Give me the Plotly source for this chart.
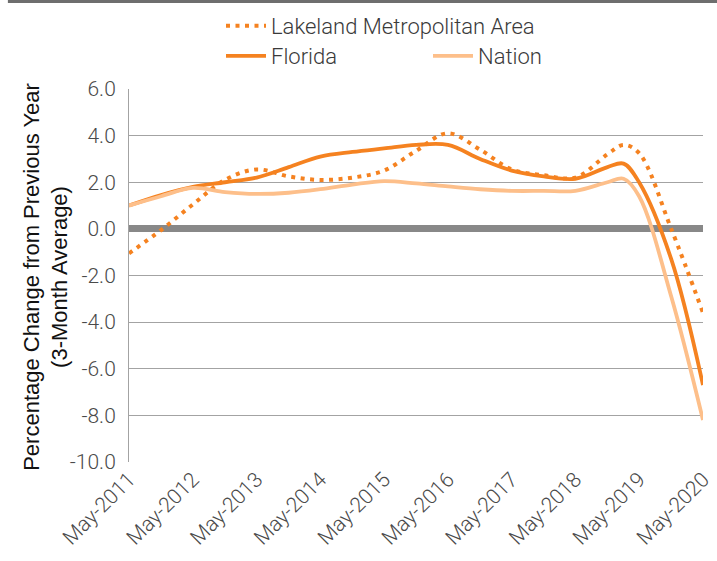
import plotly.graph_objects as go

# Semi-annual readings of year-over-year change (3-month average), percent
dates = [
    "2011-05-01", "2011-11-01", "2012-05-01", "2012-11-01", "2013-05-01",
    "2013-11-01", "2014-05-01", "2014-11-01", "2015-05-01", "2015-11-01",
    "2016-05-01", "2016-11-01", "2017-05-01", "2017-11-01", "2018-05-01",
    "2018-11-01", "2019-02-01", "2019-05-01", "2019-11-01", "2020-05-01",
]
lakeland = [-1.05, -0.05, 1.05, 2.1, 2.55, 2.25, 2.1, 2.2, 2.5, 3.35,
            4.1, 3.4, 2.55, 2.3, 2.2, 3.2, 3.6, 3.25, 0.0, -3.6]
florida = [1.0, 1.45, 1.8, 2.0, 2.2, 2.65, 3.1, 3.3, 3.45, 3.6,
           3.6, 3.0, 2.5, 2.25, 2.15, 2.65, 2.8, 2.0, -1.3, -6.7]
nation = [1.0, 1.4, 1.76, 1.58, 1.5, 1.55, 1.7, 1.9, 2.05, 1.95,
          1.82, 1.7, 1.63, 1.63, 1.63, 2.0, 2.15, 1.4, -2.9, -8.2]

tick_dates = ["%d-05-01" % y for y in range(2011, 2021)]
tick_text = ["May-%d" % y for y in range(2011, 2021)]
y_ticks = [6, 4, 2, 0, -2, -4, -6, -8, -10]
y_title = "Percentage Change from Previous Year<br>(3-Month Average)"

ORANGE = "#f58220"
LIGHT = "#fdbf8a"
LIGHT_FONT = "Roboto"
TITLE_FONT = "Liberation Sans"

fig = go.Figure()
fig.add_trace(go.Scatter(
    x=dates, y=lakeland, name="Lakeland Metropolitan Area", mode="lines",
    line=dict(color=ORANGE, width=4, dash="4px,5.5px", shape="spline", smoothing=1.0),
    legend="legend",
))
fig.add_trace(go.Scatter(
    x=dates, y=florida, name="Florida", mode="lines",
    line=dict(color=ORANGE, width=3.8, shape="spline", smoothing=1.0),
    legend="legend2",
))
fig.add_trace(go.Scatter(
    x=dates, y=nation, name="Nation", mode="lines",
    line=dict(color=LIGHT, width=3.8, shape="spline", smoothing=1.0),
    legend="legend3",
))

# Top rule across the page
fig.add_shape(type="line", xref="paper", yref="paper",
              x0=-0.211, x1=1.03, y0=1.2346, y1=1.2346,
              line=dict(color="#6e6e6e", width=3))

# Vertical axis title, set beside the tick labels
fig.add_annotation(
    text=y_title, textangle=-90, showarrow=False,
    xref="paper", yref="paper", x=-0.146, y=0.497,
    xanchor="center", yanchor="middle",
    font=dict(family=TITLE_FONT, size=22, color="#111111"),
)

legend_font = dict(family=LIGHT_FONT, size=22, color="#3a3a3a", weight=300)


def legend_box(x_px, y_px):
    return dict(
        xref="container", yref="container",
        x=x_px / 717, y=1 - y_px / 561, xanchor="left", yanchor="middle",
        font=legend_font, itemwidth=40, bgcolor="rgba(0,0,0,0)",
        borderwidth=0,
    )


fig.update_layout(
    width=717, height=561,
    margin=dict(l=129, r=14, t=89, b=99, autoexpand=False),
    paper_bgcolor="white", plot_bgcolor="white",
    font=dict(family=LIGHT_FONT, color="#555555"),
    legend=legend_box(221, 26),
    legend2=legend_box(221, 56),
    legend3=legend_box(428, 56),
    showlegend=True,
    xaxis=dict(
        type="date",
        range=["2011-05-01", "2020-05-01"],
        tickmode="array", tickvals=tick_dates, ticktext=tick_text,
        tickangle=-45,
        tickfont=dict(family=LIGHT_FONT, size=21, color="#4a4a4a", weight=300),
        showgrid=False, zeroline=False, showline=False, ticks="",
    ),
    yaxis=dict(
        range=[-10, 6],
        tickmode="array", tickvals=y_ticks,
        ticktext=["%.1f" % v for v in y_ticks],
        tickfont=dict(family=LIGHT_FONT, size=21, color="#4a4a4a", weight=300),
        showgrid=True, gridcolor="#a3a3a3", gridwidth=1,
        zeroline=True, zerolinecolor="#888888", zerolinewidth=7,
        showline=True, linecolor="#a3a3a3", linewidth=1,
        ticks="", ticklabelstandoff=8,
    ),
)

fig.write_html("out.html")
